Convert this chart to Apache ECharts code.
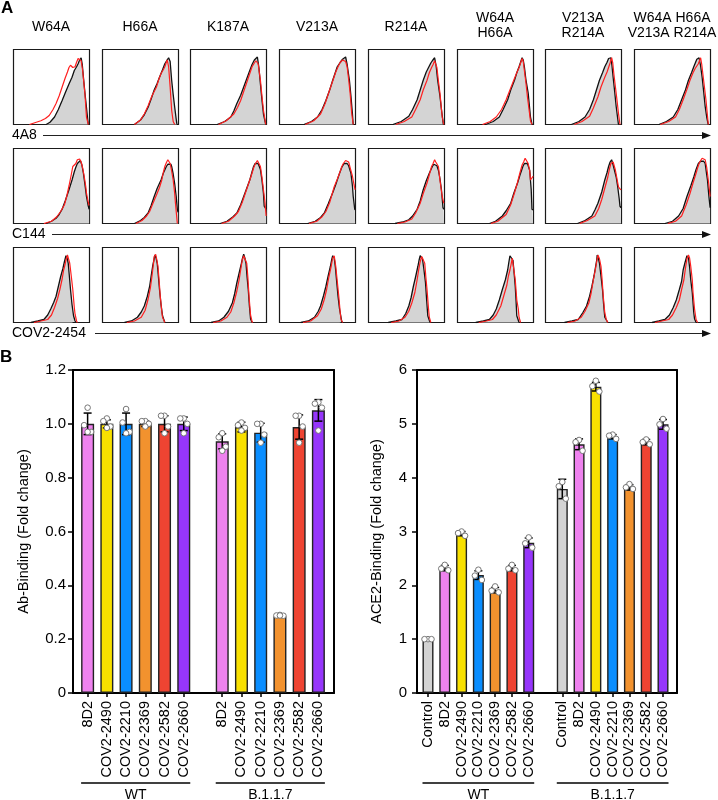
<!DOCTYPE html>
<html><head><meta charset="utf-8">
<script src="https://cdn.jsdelivr.net/npm/echarts/dist/echarts.min.js"></script>
<style>html,body{margin:0;padding:0;background:#fff}#c{width:718px;height:800px}</style>
</head><body><div id="c"></div>
<script>
// ---------------- DATA ----------------
const mutants = ['W64A','H66A','K187A','V213A','R214A','W64A\nH66A','V213A\nR214A','W64A H66A\nV213A R214A'];
const histAntibodies = ['4A8','C144','COV2-2454'];

// histogram curves, [fluorescence (fraction of box width), count (fraction of box height)]
const black4A8 = [
 [[0.43,0],[0.48,0.03],[0.54,0.10],[0.59,0.2],[0.64,0.32],[0.68,0.42],[0.73,0.54],[0.77,0.63],[0.80,0.72],[0.83,0.77],[0.85,0.81],[0.87,0.86],[0.89,0.89],[0.905,0.8],[0.92,0.63],[0.94,0.42],[0.96,0.23],[0.975,0.08],[0.985,0]],
 [[0.42,0],[0.5,0.06],[0.55,0.13],[0.60,0.23],[0.64,0.34],[0.68,0.46],[0.72,0.55],[0.75,0.63],[0.79,0.73],[0.82,0.81],[0.85,0.86],[0.87,0.89],[0.89,0.84],[0.91,0.59],[0.93,0.4],[0.95,0.23],[0.97,0.07],[0.98,0]],
 [[0.35,0],[0.45,0.04],[0.53,0.10],[0.57,0.18],[0.61,0.28],[0.66,0.39],[0.70,0.5],[0.74,0.61],[0.78,0.72],[0.81,0.8],[0.84,0.86],[0.86,0.88],[0.88,0.9],[0.90,0.76],[0.92,0.54],[0.94,0.33],[0.96,0.14],[0.99,0]],
 [[0.32,0],[0.42,0.04],[0.50,0.10],[0.56,0.2],[0.61,0.32],[0.66,0.46],[0.70,0.59],[0.73,0.68],[0.76,0.77],[0.80,0.83],[0.83,0.87],[0.85,0.88],[0.87,0.9],[0.89,0.8],[0.92,0.59],[0.94,0.38],[0.96,0.14],[0.97,0]],
 [[0.32,0],[0.43,0.04],[0.53,0.11],[0.58,0.2],[0.64,0.33],[0.68,0.46],[0.72,0.59],[0.76,0.7],[0.79,0.76],[0.82,0.82],[0.84,0.85],[0.87,0.89],[0.89,0.78],[0.91,0.59],[0.94,0.38],[0.96,0.2],[0.985,0]],
 [[0.37,0],[0.47,0.04],[0.55,0.10],[0.60,0.2],[0.66,0.33],[0.70,0.46],[0.75,0.59],[0.78,0.69],[0.81,0.77],[0.83,0.83],[0.85,0.89],[0.865,0.86],[0.88,0.77],[0.90,0.6],[0.93,0.42],[0.96,0.1],[0.98,0]],
 [[0.34,0],[0.44,0.04],[0.52,0.10],[0.58,0.2],[0.63,0.33],[0.67,0.46],[0.71,0.59],[0.75,0.69],[0.78,0.77],[0.81,0.83],[0.83,0.88],[0.86,0.89],[0.875,0.78],[0.89,0.63],[0.91,0.44],[0.93,0.24],[0.96,0]],
 [[0.32,0],[0.42,0.04],[0.51,0.1],[0.57,0.2],[0.62,0.33],[0.67,0.46],[0.71,0.59],[0.75,0.69],[0.78,0.77],[0.82,0.87],[0.85,0.89],[0.87,0.78],[0.89,0.63],[0.91,0.44],[0.93,0.24],[0.95,0.1],[0.97,0]]
];
const red4A8 = [
 [[0.21,0],[0.3,0.03],[0.36,0.05],[0.42,0.08],[0.47,0.12],[0.52,0.2],[0.56,0.28],[0.60,0.38],[0.64,0.5],[0.68,0.62],[0.71,0.70],[0.73,0.76],[0.75,0.79],[0.78,0.76],[0.81,0.77],[0.83,0.83],[0.85,0.88],[0.87,0.9],[0.89,0.85],[0.91,0.72],[0.94,0.41],[0.96,0.10],[0.985,0]],
 [[0.42,0],[0.5,0.06],[0.55,0.14],[0.60,0.25],[0.65,0.38],[0.71,0.50],[0.74,0.6],[0.77,0.68],[0.80,0.73],[0.82,0.77],[0.84,0.83],[0.85,0.86],[0.86,0.82],[0.87,0.77],[0.89,0.5],[0.91,0.19],[0.93,0.04],[0.95,0]],
 [[0.37,0],[0.47,0.05],[0.57,0.14],[0.62,0.23],[0.66,0.32],[0.70,0.44],[0.75,0.59],[0.78,0.68],[0.81,0.77],[0.84,0.82],[0.86,0.85],[0.88,0.83],[0.89,0.81],[0.92,0.59],[0.94,0.38],[0.96,0.19],[0.99,0]],
 [[0.34,0],[0.45,0.05],[0.54,0.14],[0.60,0.28],[0.65,0.43],[0.70,0.58],[0.74,0.70],[0.77,0.77],[0.80,0.83],[0.83,0.86],[0.85,0.87],[0.87,0.84],[0.89,0.77],[0.91,0.6],[0.93,0.41],[0.95,0.15],[0.97,0]],
 [[0.36,0],[0.47,0.04],[0.57,0.1],[0.62,0.2],[0.68,0.33],[0.72,0.46],[0.77,0.59],[0.80,0.69],[0.83,0.76],[0.85,0.8],[0.87,0.85],[0.88,0.83],[0.90,0.76],[0.92,0.58],[0.94,0.42],[0.97,0.10],[0.99,0]],
 [[0.33,0],[0.43,0.04],[0.51,0.1],[0.58,0.2],[0.64,0.33],[0.69,0.46],[0.74,0.59],[0.78,0.69],[0.81,0.76],[0.83,0.82],[0.85,0.88],[0.865,0.84],[0.88,0.72],[0.90,0.56],[0.92,0.37],[0.96,0.05],[0.98,0]],
 [[0.38,0],[0.48,0.04],[0.58,0.11],[0.63,0.22],[0.69,0.37],[0.73,0.5],[0.78,0.63],[0.81,0.7],[0.83,0.76],[0.85,0.82],[0.87,0.89],[0.885,0.82],[0.90,0.67],[0.92,0.5],[0.94,0.33],[0.96,0.15],[0.98,0]],
 [[0.34,0],[0.45,0.04],[0.54,0.1],[0.59,0.2],[0.64,0.33],[0.69,0.47],[0.73,0.59],[0.77,0.69],[0.80,0.75],[0.82,0.78],[0.84,0.81],[0.87,0.89],[0.885,0.8],[0.90,0.67],[0.92,0.5],[0.94,0.33],[0.97,0.01],[0.975,0]]
];
const blackC144 = [
 [[0.43,0],[0.5,0.03],[0.56,0.07],[0.60,0.12],[0.64,0.19],[0.68,0.3],[0.73,0.45],[0.77,0.58],[0.80,0.69],[0.82,0.75],[0.84,0.80],[0.86,0.82],[0.88,0.84],[0.90,0.78],[0.92,0.67],[0.94,0.52],[0.96,0.36],[0.98,0.25],[0.995,0.19]],
 [[0.42,0],[0.5,0.04],[0.55,0.08],[0.60,0.14],[0.64,0.24],[0.68,0.36],[0.72,0.47],[0.77,0.58],[0.80,0.67],[0.84,0.76],[0.86,0.79],[0.88,0.81],[0.90,0.79],[0.91,0.76],[0.93,0.66],[0.95,0.53],[0.97,0.36],[0.985,0.19],[0.995,0.15]],
 [[0.39,0],[0.48,0.03],[0.56,0.09],[0.61,0.14],[0.66,0.25],[0.70,0.36],[0.74,0.47],[0.78,0.58],[0.81,0.69],[0.83,0.76],[0.85,0.8],[0.87,0.82],[0.89,0.8],[0.90,0.78],[0.92,0.72],[0.94,0.58],[0.96,0.4],[0.97,0.23],[0.995,0.19]],
 [[0.37,0],[0.47,0.03],[0.54,0.08],[0.59,0.14],[0.64,0.26],[0.70,0.41],[0.74,0.52],[0.79,0.67],[0.82,0.75],[0.85,0.80],[0.87,0.81],[0.89,0.80],[0.91,0.77],[0.94,0.67],[0.96,0.5],[0.97,0.36],[0.99,0.19],[0.995,0.18]],
 [[0.35,0],[0.45,0.02],[0.53,0.05],[0.58,0.1],[0.64,0.19],[0.68,0.3],[0.72,0.45],[0.76,0.57],[0.80,0.67],[0.84,0.76],[0.86,0.79],[0.88,0.8],[0.90,0.77],[0.92,0.71],[0.94,0.6],[0.96,0.45],[0.98,0.21],[0.995,0.19]],
 [[0.42,0],[0.5,0.03],[0.59,0.1],[0.64,0.17],[0.70,0.27],[0.74,0.4],[0.79,0.54],[0.82,0.64],[0.86,0.76],[0.88,0.8],[0.90,0.82],[0.92,0.80],[0.95,0.71],[0.97,0.45],[0.98,0.19],[0.995,0.18]],
 [[0.42,0],[0.52,0.04],[0.61,0.1],[0.65,0.18],[0.69,0.27],[0.74,0.42],[0.78,0.58],[0.81,0.68],[0.83,0.76],[0.85,0.82],[0.87,0.85],[0.89,0.78],[0.90,0.76],[0.93,0.62],[0.95,0.49],[0.97,0.33],[0.98,0.23],[0.995,0.21]],
 [[0.40,0],[0.5,0.03],[0.58,0.1],[0.64,0.2],[0.69,0.36],[0.74,0.5],[0.78,0.62],[0.81,0.72],[0.84,0.80],[0.87,0.83],[0.89,0.85],[0.91,0.83],[0.93,0.8],[0.95,0.65],[0.96,0.58],[0.98,0.35],[0.995,0.21]]
];
const redC144 = [
 [[0.40,0],[0.5,0.03],[0.57,0.09],[0.62,0.16],[0.67,0.25],[0.70,0.36],[0.73,0.50],[0.76,0.65],[0.78,0.76],[0.80,0.77],[0.82,0.80],[0.84,0.85],[0.85,0.84],[0.87,0.86],[0.89,0.82],[0.91,0.74],[0.93,0.63],[0.95,0.5],[0.96,0.41],[0.98,0.3],[0.995,0.24]],
 [[0.44,0],[0.52,0.04],[0.58,0.1],[0.62,0.16],[0.66,0.26],[0.71,0.38],[0.75,0.48],[0.78,0.58],[0.80,0.68],[0.82,0.76],[0.84,0.81],[0.86,0.85],[0.875,0.83],[0.89,0.80],[0.91,0.7],[0.93,0.58],[0.95,0.4],[0.96,0.27],[0.98,0.05],[0.985,0]],
 [[0.41,0],[0.5,0.03],[0.58,0.1],[0.63,0.16],[0.68,0.28],[0.72,0.4],[0.76,0.52],[0.80,0.64],[0.83,0.74],[0.85,0.79],[0.88,0.84],[0.90,0.80],[0.92,0.76],[0.94,0.62],[0.96,0.45],[0.98,0.28],[0.995,0.1]],
 [[0.39,0],[0.49,0.03],[0.56,0.09],[0.61,0.16],[0.66,0.28],[0.72,0.49],[0.76,0.59],[0.79,0.67],[0.82,0.76],[0.84,0.80],[0.87,0.84],[0.89,0.83],[0.91,0.82],[0.93,0.74],[0.96,0.63],[0.98,0.52],[0.995,0.45]],
 [[0.38,0],[0.48,0.02],[0.57,0.06],[0.62,0.14],[0.68,0.27],[0.72,0.4],[0.77,0.54],[0.80,0.65],[0.83,0.76],[0.85,0.8],[0.87,0.85],[0.885,0.82],[0.90,0.83],[0.92,0.76],[0.94,0.58],[0.97,0.36],[0.99,0.27]],
 [[0.44,0],[0.53,0.03],[0.64,0.12],[0.70,0.25],[0.75,0.41],[0.79,0.55],[0.82,0.67],[0.85,0.78],[0.87,0.82],[0.89,0.87],[0.91,0.85],[0.93,0.80],[0.95,0.7],[0.96,0.58],[0.98,0.6],[0.995,0.63]],
 [[0.45,0],[0.55,0.04],[0.65,0.1],[0.70,0.2],[0.74,0.32],[0.78,0.47],[0.82,0.62],[0.84,0.72],[0.86,0.80],[0.88,0.82],[0.89,0.82],[0.92,0.71],[0.94,0.6],[0.96,0.49],[0.98,0.46],[0.995,0.45]],
 [[0.44,0],[0.54,0.03],[0.62,0.1],[0.68,0.25],[0.73,0.4],[0.77,0.54],[0.81,0.67],[0.83,0.74],[0.85,0.80],[0.87,0.84],[0.89,0.87],[0.91,0.85],[0.93,0.85],[0.95,0.75],[0.96,0.67],[0.98,0.5],[0.995,0.36]]
];
const black2454 = [
 [[0.23,0],[0.32,0.02],[0.40,0.04],[0.45,0.1],[0.49,0.18],[0.53,0.27],[0.56,0.35],[0.59,0.48],[0.62,0.61],[0.65,0.72],[0.67,0.81],[0.69,0.89],[0.705,0.86],[0.72,0.79],[0.735,0.62],[0.75,0.44],[0.77,0.24],[0.79,0.09],[0.81,0.02],[0.82,0]],
 [[0.29,0],[0.38,0.02],[0.46,0.07],[0.51,0.14],[0.55,0.22],[0.59,0.35],[0.62,0.48],[0.64,0.62],[0.66,0.75],[0.68,0.85],[0.69,0.9],[0.705,0.86],[0.72,0.79],[0.735,0.62],[0.75,0.44],[0.77,0.24],[0.79,0.09],[0.82,0]],
 [[0.27,0],[0.37,0.02],[0.44,0.07],[0.50,0.15],[0.55,0.26],[0.58,0.38],[0.61,0.53],[0.64,0.66],[0.67,0.79],[0.685,0.86],[0.70,0.91],[0.715,0.86],[0.73,0.79],[0.745,0.6],[0.76,0.44],[0.775,0.22],[0.79,0.05],[0.81,0]],
 [[0.28,0],[0.38,0.02],[0.46,0.07],[0.51,0.15],[0.54,0.22],[0.58,0.36],[0.61,0.48],[0.64,0.62],[0.67,0.75],[0.685,0.83],[0.70,0.89],[0.72,0.86],[0.735,0.74],[0.75,0.57],[0.77,0.35],[0.79,0.18],[0.82,0.01],[0.83,0]],
 [[0.26,0],[0.36,0.02],[0.44,0.04],[0.49,0.12],[0.53,0.22],[0.56,0.33],[0.59,0.48],[0.62,0.61],[0.65,0.75],[0.665,0.83],[0.68,0.89],[0.70,0.87],[0.71,0.85],[0.73,0.7],[0.75,0.53],[0.765,0.3],[0.78,0.09],[0.81,0]],
 [[0.24,0],[0.34,0.02],[0.42,0.04],[0.47,0.1],[0.51,0.18],[0.55,0.3],[0.59,0.44],[0.63,0.57],[0.66,0.70],[0.675,0.8],[0.69,0.89],[0.71,0.87],[0.73,0.83],[0.745,0.66],[0.76,0.48],[0.77,0.3],[0.78,0.09],[0.81,0]],
 [[0.25,0],[0.35,0.02],[0.43,0.04],[0.49,0.13],[0.54,0.22],[0.58,0.35],[0.61,0.48],[0.64,0.63],[0.66,0.75],[0.675,0.84],[0.68,0.9],[0.695,0.86],[0.71,0.79],[0.73,0.62],[0.75,0.44],[0.765,0.24],[0.78,0.07],[0.82,0]],
 [[0.23,0],[0.32,0.02],[0.40,0.04],[0.46,0.1],[0.51,0.2],[0.55,0.3],[0.59,0.44],[0.62,0.55],[0.64,0.70],[0.665,0.8],[0.69,0.89],[0.71,0.86],[0.725,0.74],[0.74,0.57],[0.76,0.4],[0.78,0.13],[0.79,0.05],[0.81,0]]
];
const red2454 = [
 [[0.27,0],[0.36,0.02],[0.45,0.04],[0.50,0.1],[0.54,0.2],[0.58,0.32],[0.61,0.44],[0.64,0.58],[0.66,0.70],[0.68,0.78],[0.69,0.83],[0.71,0.9],[0.72,0.88],[0.74,0.79],[0.76,0.62],[0.78,0.44],[0.80,0.2],[0.81,0.11],[0.83,0.02],[0.84,0]],
 [[0.32,0],[0.42,0.02],[0.51,0.07],[0.56,0.16],[0.60,0.31],[0.63,0.46],[0.65,0.61],[0.67,0.78],[0.68,0.88],[0.70,0.91],[0.71,0.86],[0.73,0.75],[0.745,0.56],[0.76,0.35],[0.78,0.15],[0.79,0.07],[0.82,0]],
 [[0.3,0],[0.4,0.02],[0.48,0.07],[0.53,0.14],[0.57,0.26],[0.61,0.42],[0.64,0.57],[0.66,0.7],[0.68,0.83],[0.70,0.89],[0.71,0.91],[0.725,0.87],[0.74,0.79],[0.755,0.6],[0.77,0.35],[0.79,0.1],[0.81,0.01],[0.82,0]],
 [[0.31,0],[0.41,0.02],[0.50,0.09],[0.55,0.18],[0.59,0.31],[0.62,0.44],[0.65,0.61],[0.68,0.75],[0.70,0.86],[0.72,0.89],[0.74,0.75],[0.76,0.55],[0.78,0.35],[0.80,0.12],[0.81,0.04],[0.83,0]],
 [[0.3,0],[0.4,0.02],[0.48,0.07],[0.53,0.15],[0.57,0.26],[0.61,0.4],[0.64,0.57],[0.66,0.7],[0.68,0.81],[0.70,0.88],[0.71,0.9],[0.725,0.86],[0.74,0.79],[0.755,0.6],[0.77,0.44],[0.79,0.18],[0.80,0.07],[0.82,0]],
 [[0.28,0],[0.38,0.02],[0.46,0.04],[0.51,0.1],[0.57,0.22],[0.61,0.36],[0.65,0.5],[0.67,0.62],[0.69,0.7],[0.71,0.8],[0.72,0.86],[0.74,0.84],[0.76,0.57],[0.78,0.3],[0.80,0.18],[0.81,0.07],[0.83,0]],
 [[0.29,0],[0.39,0.02],[0.47,0.07],[0.52,0.15],[0.57,0.26],[0.60,0.39],[0.63,0.57],[0.655,0.7],[0.67,0.79],[0.69,0.9],[0.71,0.85],[0.73,0.75],[0.745,0.57],[0.76,0.35],[0.78,0.13],[0.80,0.04],[0.82,0]],
 [[0.27,0],[0.36,0.02],[0.45,0.04],[0.50,0.1],[0.55,0.2],[0.59,0.3],[0.62,0.44],[0.65,0.57],[0.67,0.72],[0.69,0.85],[0.71,0.9],[0.725,0.86],[0.74,0.75],[0.76,0.57],[0.77,0.4],[0.79,0.18],[0.81,0.04],[0.83,0]]
];

// Panel B left: Ab-Binding
const abCategories = ['8D2','COV2-2490','COV2-2210','COV2-2369','COV2-2582','COV2-2660'];
const abWT_mean = [1.00, 1.00, 1.00, 1.00, 1.00, 1.00];
const abWT_sd = [0.04, 0.015, 0.04, 0.01, 0.03, 0.025];
const abWT_points = [[1.06,0.995,0.97,0.97],[1.02,1.01,0.99,0.985],[1.055,1.005,0.97,0.965],[1.01,1.01,1.0,0.99],[1.03,1.03,0.99,0.965],[1.02,1.02,1.0,0.965]];
const abB117_mean = [0.935, 0.988, 0.967, 0.285, 0.988, 1.05];
const abB117_sd = [0.028, 0.018, 0.035, 0.004, 0.045, 0.04];
const abB117_points = [[0.965,0.95,0.915,0.9],[1.005,0.995,0.985,0.975],[1.0,1.0,0.96,0.93],[0.29,0.288,0.287,0.288],[1.03,1.03,0.99,0.93],[1.08,1.075,1.06,0.975]];
const groupNames = ['WT','B.1.1.7'];

// Panel B right: ACE2-Binding
const aceCategories = ['Control','8D2','COV2-2490','COV2-2210','COV2-2369','COV2-2582','COV2-2660'];
const aceWT_mean = [1.0, 2.32, 2.96, 2.19, 1.91, 2.32, 2.79];
const aceWT_sd = [0, 0.05, 0.04, 0.08, 0.05, 0.05, 0.09];
const aceWT_points = [[1,1,1],[2.38,2.31,2.28],[3.0,2.97,2.92],[2.29,2.18,2.1],[1.98,1.9,1.87],[2.38,2.31,2.28],[2.89,2.78,2.7]];
const aceB117_mean = [3.79, 4.62, 5.69, 4.76, 3.82, 4.66, 4.99];
const aceB117_sd = [0.18, 0.1, 0.08, 0.04, 0.05, 0.05, 0.09];
const aceB117_points = [[3.92,3.84,3.61],[4.7,4.66,4.5],[5.8,5.7,5.6],[4.8,4.78,4.72],[3.88,3.82,3.79],[4.71,4.66,4.62],[5.09,4.99,4.91]];

// ---------------- STYLE / LAYOUT ----------------
const FONT = '"Liberation Sans", Arial, Helvetica, sans-serif';
const barColors = {'Control':'#d3d3d3','8D2':'#ee82ee','COV2-2490':'#f8e000','COV2-2210':'#0a8eff','COV2-2369':'#f2922e','COV2-2582':'#ee4432','COV2-2660':'#9636fb'};
const BOX_X0 = 13, BOX_PITCH = 88.7, BOX_W = 76, BOX_H = 75;
const ROW_TOP = [49, 148, 247];
const ROW_LINE_START = [43, 52, 95];

const chart = echarts.init(document.getElementById('c'), null, {renderer:'canvas'});
const grids = [], xAxes = [], yAxes = [], series = [], graphics = [];

// ---- Panel A ----
const histBlack = [black4A8, blackC144, black2454];
const histRed = [red4A8, redC144, red2454];
for (let r = 0; r < 3; r++) {
  for (let c = 0; c < 8; c++) {
    const gi = grids.length;
    grids.push({left: Math.round(BOX_X0 + c*BOX_PITCH) + 0.5, top: ROW_TOP[r] + 0.5, width: BOX_W, height: BOX_H, show: true,
      borderColor: '#1a1a1a', borderWidth: 1.2, backgroundColor: '#fff', containLabel: false, outerBoundsMode: 'none'});
    xAxes.push({gridIndex: gi, type: 'value', min: 0, max: 1, show: false});
    yAxes.push({gridIndex: gi, type: 'value', min: 0, max: 1, show: false});
    series.push({type: 'line', xAxisIndex: gi, yAxisIndex: gi, data: histBlack[r][c], symbol: 'none', silent: true,
      lineStyle: {color: '#111', width: 1.3}, areaStyle: {color: '#d4d4d4', opacity: 1}, z: 2});
    series.push({type: 'line', xAxisIndex: gi, yAxisIndex: gi, data: histRed[r][c], symbol: 'none', silent: true,
      lineStyle: {color: '#ff1f1f', width: 1.2}, z: 3});
  }
}
graphics.push({type: 'text', x: 1, y: 0, style: {text: 'A', fontSize: 17, fontWeight: 'bold', fontFamily: FONT, fill: '#000'}});
graphics.push({type: 'text', x: 0, y: 349, style: {text: 'B', fontSize: 17, fontWeight: 'bold', fontFamily: FONT, fill: '#000'}});
mutants.forEach((m, c) => {
  const two = m.indexOf('\n') >= 0;
  graphics.push({type: 'text', x: Math.round(BOX_X0 + c*BOX_PITCH) + BOX_W/2, y: two ? 25.5 : 27,
    style: {text: m, fontSize: 14, fontFamily: FONT, fill: '#000', align: 'center', verticalAlign: 'middle', lineHeight: 15}});
});
histAntibodies.forEach((a, r) => {
  const y = ROW_TOP[r] + 86.5;
  graphics.push({type: 'text', x: 12, y: y, style: {text: a, fontSize: 14, fontFamily: FONT, fill: '#000', align: 'left', verticalAlign: 'middle'}});
  graphics.push({type: 'line', shape: {x1: ROW_LINE_START[r], y1: y, x2: 705, y2: y}, style: {stroke: '#222', lineWidth: 1.2}});
  graphics.push({type: 'polygon', shape: {points: [[702, y-3.5], [711, y], [702, y+3.5]]}, style: {fill: '#111'}});
});

// ---- Panel B ----
const PT_OFFS = {3: [0, -3.5, 3.5], 4: [0, -3.5, 3.5, 0]};
function buildBarPanel(cfg) {
  const fg = grids.length;
  grids.push({left: cfg.frameLeft, top: 370, width: cfg.frameWidth, height: 323, show: false, containLabel: false, outerBoundsMode: 'none'});
  const frameLine = {show: true, onZero: false, lineStyle: {color: '#000', width: 2}};
  xAxes.push({gridIndex: fg, type: 'value', position: 'bottom', min: 0, max: 1, axisLine: frameLine, axisTick: {show: false}, axisLabel: {show: false}, splitLine: {show: false}});
  xAxes.push({gridIndex: fg, type: 'value', position: 'top', min: 0, max: 1, axisLine: frameLine, axisTick: {show: false}, axisLabel: {show: false}, splitLine: {show: false}});
  yAxes.push({gridIndex: fg, type: 'value', position: 'left', min: 0, max: cfg.max, interval: cfg.interval,
    axisLine: frameLine, axisTick: {show: true, length: 5, lineStyle: {color: '#000', width: 1.5}},
    axisLabel: {fontSize: 15, color: '#000', fontFamily: FONT, margin: cfg.labelMargin, formatter: cfg.fmt},
    splitLine: {show: false}, name: cfg.name, nameLocation: 'middle', nameGap: cfg.nameGap,
    nameTextStyle: {fontSize: 14.5, color: '#000', fontFamily: FONT}});
  yAxes.push({gridIndex: fg, type: 'value', position: 'right', min: 0, max: cfg.max, axisLine: frameLine, axisTick: {show: false}, axisLabel: {show: false}, splitLine: {show: false}});
  const bg = grids.length;
  const cats = [...cfg.categories, '', ...cfg.categories];
  const n = cfg.categories.length;
  grids.push({left: cfg.barLeft, top: 370, width: cfg.barWidthTotal, height: 323, show: false, containLabel: false, outerBoundsMode: 'none'});
  const xi = xAxes.length, yi = yAxes.length;
  xAxes.push({gridIndex: bg, type: 'category', data: cats, position: 'bottom',
    axisLine: {show: false}, splitLine: {show: false},
    axisTick: {show: true, alignWithLabel: true, length: 4, interval: function (i, v) { return v !== ''; }, lineStyle: {color: '#000', width: 1.5}},
    axisLabel: {interval: 0, rotate: 90, fontSize: 14.5, color: '#000', fontFamily: FONT, margin: 8}});
  yAxes.push({gridIndex: bg, type: 'value', min: 0, max: cfg.max, show: false});
  const barData = [], errData = [], ptData = [];
  const groups = [[cfg.wtMean, cfg.wtSd, cfg.wtPts, 0], [cfg.bMean, cfg.bSd, cfg.bPts, n + 1]];
  groups.forEach(([mean, sd, pts, off]) => {
    mean.forEach((v, i) => {
      barData[off + i] = {value: v, itemStyle: {color: barColors[cfg.categories[i]]}};
      if (sd[i] > 0) errData.push([off + i, v - sd[i], v + sd[i]]);
      pts[i].forEach((p, k) => ptData.push([off + i, p, k, pts[i].length]));
    });
  });
  barData[n] = '-';
  series.push({type: 'bar', xAxisIndex: xi, yAxisIndex: yi, data: barData, barWidth: cfg.barW, silent: true,
    itemStyle: {borderColor: '#222', borderWidth: 1.4}, z: 2});
  series.push({type: 'custom', xAxisIndex: xi, yAxisIndex: yi, data: errData, silent: true, z: 4,
    renderItem: function (params, api) {
      const t = api.coord([api.value(0), api.value(2)]);
      const b = api.coord([api.value(0), api.value(1)]);
      const cap = 4, st = {stroke: '#000', lineWidth: 1.5};
      return {type: 'group', children: [
        {type: 'line', shape: {x1: t[0], y1: t[1], x2: b[0], y2: b[1]}, style: st},
        {type: 'line', shape: {x1: t[0]-cap, y1: t[1], x2: t[0]+cap, y2: t[1]}, style: st},
        {type: 'line', shape: {x1: b[0]-cap, y1: b[1], x2: b[0]+cap, y2: b[1]}, style: st}
      ]};
    }});
  series.push({type: 'custom', xAxisIndex: xi, yAxisIndex: yi, data: ptData, silent: true, z: 5,
    renderItem: function (params, api) {
      const p = api.coord([api.value(0), api.value(1)]);
      const offs = PT_OFFS[api.value(3)] || [0];
      const dx = offs[api.value(2)] || 0;
      return {type: 'circle', shape: {cx: p[0] + dx, cy: p[1], r: 2.8}, style: {fill: '#fff', stroke: '#777', lineWidth: 1}};
    }});
  return {xi: xi, n: n, barW: cfg.barW};
}

const leftPanel = buildBarPanel({frameLeft: 73, frameWidth: 261, barLeft: 78, barWidthTotal: 250, max: 1.2, interval: 0.2,
  fmt: function (v) { return v === 0 ? '0' : v.toFixed(1); }, name: 'Ab-Binding (Fold change)', nameGap: 42, labelMargin: 7,
  categories: abCategories, wtMean: abWT_mean, wtSd: abWT_sd, wtPts: abWT_points,
  bMean: abB117_mean, bSd: abB117_sd, bPts: abB117_points, barW: 13});
const rightPanel = buildBarPanel({frameLeft: 417, frameWidth: 260, barLeft: 419.6, barWidthTotal: 251.8, max: 6, interval: 1,
  fmt: function (v) { return String(v); }, name: 'ACE2-Binding (Fold change)', nameGap: 33, labelMargin: 10,
  categories: aceCategories, wtMean: aceWT_mean, wtSd: aceWT_sd, wtPts: aceWT_points,
  bMean: aceB117_mean, bSd: aceB117_sd, bPts: aceB117_points, barW: 11});

const option = {animation: false, backgroundColor: '#fff', grid: grids, xAxis: xAxes, yAxis: yAxes, series: series, graphic: graphics};
chart.setOption(option);

// group brackets under the category labels, placed from the axis scale
[leftPanel, rightPanel].forEach(p => {
  [[0, p.n - 1], [p.n + 1, 2*p.n]].forEach(([i0, i1], g) => {
    const a = chart.convertToPixel({xAxisIndex: p.xi}, i0);
    const b = chart.convertToPixel({xAxisIndex: p.xi}, i1);
    const x0 = a - p.barW/2, x1 = b + p.barW/2;
    graphics.push({type: 'line', shape: {x1: x0, y1: 783, x2: x1, y2: 783}, style: {stroke: '#000', lineWidth: 1.5}});
    graphics.push({type: 'text', x: (x0 + x1)/2, y: 795, style: {text: groupNames[g], fontSize: 14, fontFamily: FONT, fill: '#000', align: 'center', verticalAlign: 'middle'}});
  });
});
chart.setOption({graphic: graphics});
</script></body></html>
